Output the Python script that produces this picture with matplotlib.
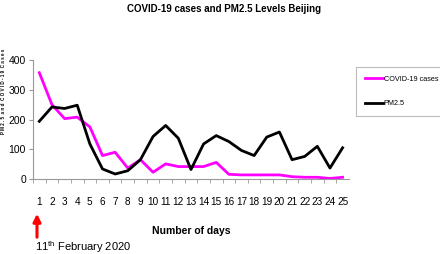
import matplotlib
matplotlib.use('Agg')
import matplotlib.pyplot as plt
from matplotlib.patches import FancyArrowPatch

# Данные с графика
days = list(range(1, 26))
covid_cases = [357, 250, 203, 208, 175, 79, 90, 37, 65, 23, 51, 42, 42, 42, 56,
               16, 14, 14, 14, 14, 8, 6, 6, 2, 6]
pm25 = [194, 242, 237, 248, 118, 34, 17, 28, 65, 143, 180, 137, 32, 118, 146,
        126, 96, 79, 141, 158, 65, 76, 110, 37, 105]
y_ticks = [0, 100, 200, 300, 400]

font = 'Liberation Sans'
plt.rcParams['font.family'] = [font, 'DejaVu Sans']
plt.rcParams['mathtext.default'] = 'regular'

fig = plt.figure(figsize=(4.4, 2.54), dpi=100)
ax = fig.add_axes([0.075, 0.295, 0.718, 0.469])

ax.plot(days, covid_cases, color='#ff00ff', lw=2, label='COVID-19 cases')
ax.plot(days, pm25, color='black', lw=2, label='PM2.5')

ax.set_xlim(0.5, 25.5)
ax.set_ylim(0, 400)
ax.set_yticks(y_ticks)
ax.set_yticklabels([str(v) for v in y_ticks], fontsize=7.5)
ax.set_xticks(days)
ax.set_xticklabels([str(d) for d in days], fontsize=7.2)
ax.set_xticks([d + 0.5 for d in range(0, 25)], minor=True)
ax.tick_params(axis='x', which='major', length=0, pad=13)
ax.tick_params(axis='x', which='minor', length=3, color='#999999', direction='out')
ax.tick_params(axis='y', length=3, color='#999999', pad=2)
for s in ['top', 'right']:
    ax.spines[s].set_visible(False)
for s in ['left', 'bottom']:
    ax.spines[s].set_color('#999999')
    ax.spines[s].set_linewidth(0.8)

ax.set_xlabel('Number of days', fontsize=7.5, fontweight='bold')
ax.xaxis.set_label_coords(0.5, -0.39)
fig.text(0.009, 0.64, 'P M 2 . 5  a n d  C O V I D - 1 9  C a s e s', rotation=90,
         fontsize=3.3, fontweight='bold', ha='center', va='center')

fig.suptitle('COVID-19 cases and PM2.5 Levels Beijing', x=0.51, y=0.985,
             fontsize=7, fontweight='bold')

leg = ax.legend(loc='upper left', bbox_to_anchor=(1.022, 0.94), frameon=True,
                fancybox=False, edgecolor='#aaaaaa', prop={'size': 5.2},
                handlelength=2.6, handletextpad=0.05, labelspacing=2.4,
                borderpad=1.2, borderaxespad=0)
leg.get_frame().set_linewidth(0.8)

# Красная стрелка и дата начала
fig.add_artist(FancyArrowPatch(
    (37 / 440, 1 - 240 / 254), (37 / 440, 1 - 211 / 254),
    transform=fig.transFigure, arrowstyle='-|>', mutation_scale=11,
    color='red', lw=2.2))
fig.text(35 / 440, 1 - 247 / 254, '11$^{th}$ February 2020', fontsize=8,
         va='center', ha='left')

fig.savefig('out.png', dpi=100)
